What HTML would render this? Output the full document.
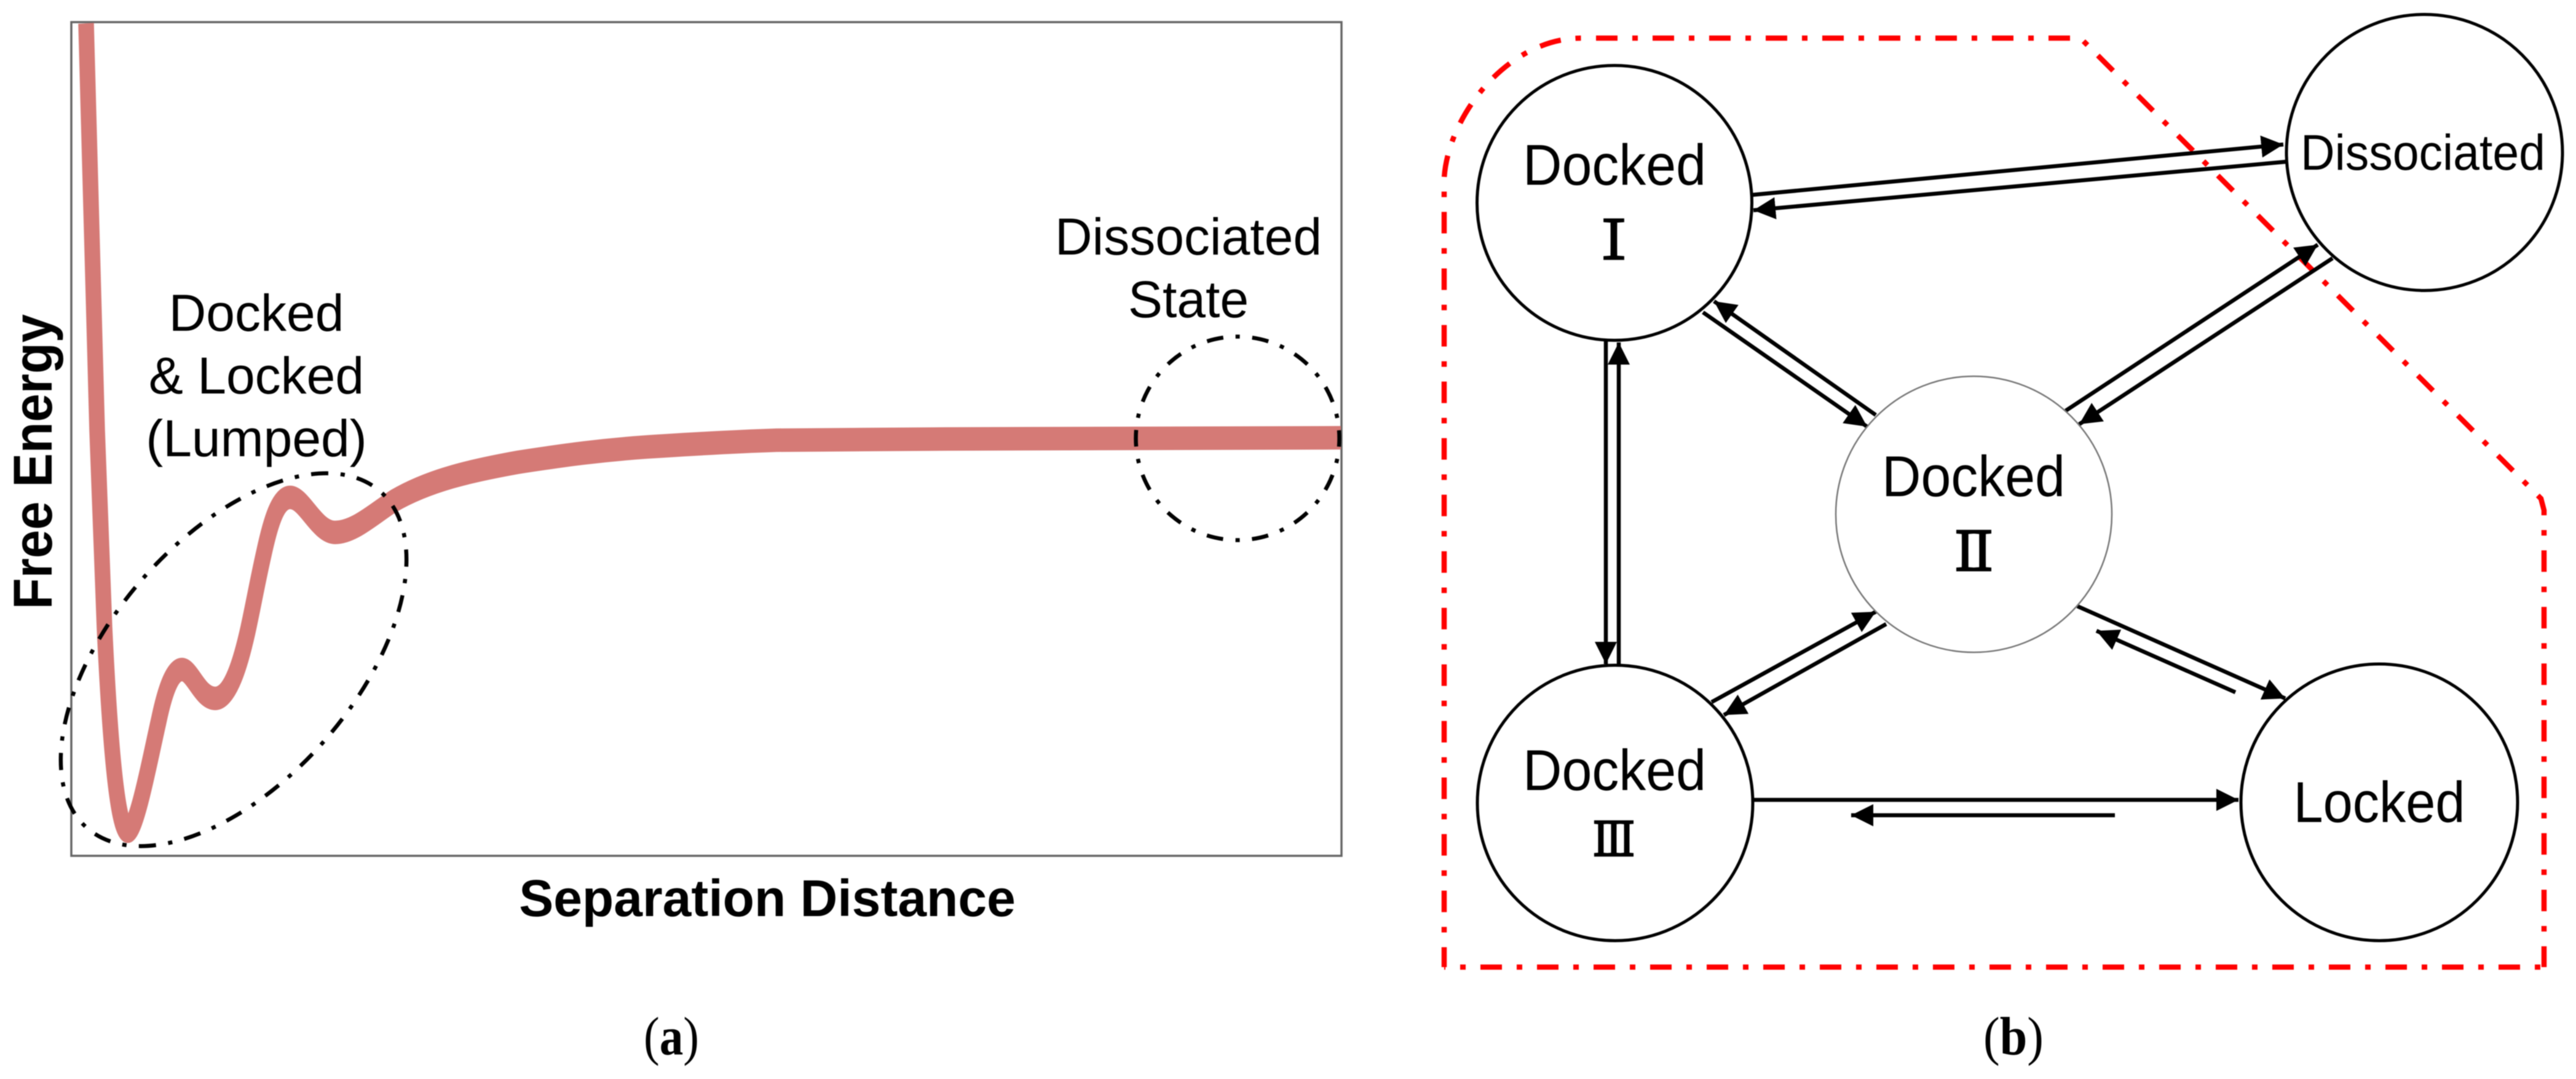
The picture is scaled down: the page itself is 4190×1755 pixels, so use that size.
<!DOCTYPE html>
<html>
<head>
<meta charset="utf-8">
<style>
html,body{margin:0;padding:0;background:#fff;}
svg{display:block;filter:blur(0.7px);}
.a{font-family:"Liberation Sans",Arial,sans-serif;fill:#000;}
.n{font-family:"Liberation Sans",Arial,sans-serif;font-size:94px;text-anchor:middle;fill:#000;}
.r{font-family:"Noto Serif CJK SC","Noto Serif CJK",serif;text-anchor:middle;fill:#000;stroke:#000;stroke-width:3.5;}
.l{stroke:#000;stroke-width:6.5;fill:none;marker-end:url(#h);}
.c{fill:#fff;stroke:#000;stroke-width:5;}
.d{fill:none;stroke:#f00;stroke-width:8.5;}
</style>
</head>
<body>
<svg xmlns="http://www.w3.org/2000/svg" width="4190" height="1755" viewBox="0 0 4190 1755">
<defs>
<marker id="h" markerUnits="userSpaceOnUse" markerWidth="40" markerHeight="40" refX="36" refY="20" orient="auto">
<path d="M0,2 L36,20 L0,38 Z" fill="#000"/>
</marker>
</defs>
<rect width="4190" height="1755" fill="#fff"/>

<!-- Panel a -->
<rect x="116" y="36" width="2066" height="1356" fill="#fff" stroke="#666" stroke-width="3.5"/>
<g transform="scale(1 1.5)">
<path d="M140,25.33 L158,466.67 L170,680.67 C178,793.33 190,901.33 208,901.33 C222,901.33 245,820 258,782 C268,750 280,726 296,726 C313,726 325,757.33 350,757.33 C375,757.33 392,716.67 403,684 C412,656.67 418,633.33 429,600.67 C440,566.67 452,539.33 472,539.33 C495,539.33 515,577.33 545,577.33 C575,577.33 605,558.67 640,543.33 C700,520 770,510 842,501.33 C920,493.33 980,488 1052,484.67 C1130,481.33 1200,478.67 1263,477.33 L1543,476 L2181,474.67" fill="none" stroke="#d57a76" stroke-width="25.5" stroke-linejoin="round"/>
</g>
<ellipse cx="380" cy="1073" rx="363" ry="198" transform="rotate(-49 380 1073)" fill="none" stroke="#000" stroke-width="6.5" stroke-dasharray="28 20 7 20" stroke-dashoffset="43.5"/>
<circle cx="2013" cy="713" r="165.5" fill="none" stroke="#000" stroke-width="6.5" stroke-dasharray="27 20 7 20.27" stroke-dashoffset="13.5"/>

<g class="a" font-size="84" text-anchor="middle">
<text x="417" y="538">Docked</text>
<text x="417" y="640">&amp; Locked</text>
<text x="417" y="742">(Lumped)</text>
<text x="1933" y="414">Dissociated</text>
<text x="1933" y="516">State</text>
<text x="1248" y="1490" font-weight="bold">Separation Distance</text>
<text transform="translate(84 751) rotate(-90)" font-weight="bold" font-size="89" textLength="480" lengthAdjust="spacingAndGlyphs">Free Energy</text>
</g>
<text x="1092" y="1715" font-family="'Liberation Serif',serif" font-size="88" text-anchor="middle" textLength="90" lengthAdjust="spacingAndGlyphs">(<tspan font-weight="bold">a</tspan>)</text>
<text x="3275" y="1715" font-family="'Liberation Serif',serif" font-size="88" text-anchor="middle" textLength="98" lengthAdjust="spacingAndGlyphs">(<tspan font-weight="bold">b</tspan>)</text>

<!-- Panel b: boundary -->
<path class="d" d="M2349,1573 L4138,1573" stroke-dasharray="35 24 9 24" stroke-dashoffset="33"/>
<path class="d" d="M2596,62 L3384,62 L4133,811 L4138,830 L4138,1573" stroke-dasharray="35 24 9 24"/>
<path class="d" d="M2571.5,62 C2450,63 2355,190 2349,290 L2349,1573" stroke-dasharray="9 24 35 24"/>

<!-- Connectors -->
<path class="l" d="M2850,317 L3714,235"/>
<path class="l" d="M3719,263 L2852,342"/>
<path class="l" d="M2770,508 L3037,694"/>
<path class="l" d="M3051,675 L2788,490"/>
<path class="l" d="M3360,668 L3770,398"/>
<path class="l" d="M3794,420 L3382,690"/>
<path class="l" d="M2612,555 L2612,1080"/>
<path class="l" d="M2633,1080 L2633,557"/>
<path class="l" d="M2784,1142 L3051,995"/>
<path class="l" d="M3068,1015 L2804,1163"/>
<path class="l" d="M3379,986 L3717,1136"/>
<path class="l" d="M3636,1126 L3410,1026"/>
<path class="l" d="M2852,1301 L3641,1301"/>
<path class="l" d="M3440,1326 L3011,1326"/>

<!-- Nodes -->
<circle class="c" cx="2626" cy="330" r="223.5"/>
<circle class="c" cx="3943.5" cy="248" r="224.5"/>
<circle cx="3210.5" cy="836.5" r="224.5" fill="#fff" stroke="#777" stroke-width="2.5"/>
<circle class="c" cx="2627" cy="1306" r="224"/>
<circle class="c" cx="3870" cy="1305" r="225"/>

<text class="n" x="2626" y="300.5" textLength="298" lengthAdjust="spacingAndGlyphs">Docked</text>
<text class="r" x="2625" y="421" font-size="86">Ⅰ</text>
<text class="n" x="3210" y="807" textLength="298" lengthAdjust="spacingAndGlyphs">Docked</text>
<text class="r" x="3210.5" y="927.5" font-size="86">Ⅱ</text>
<text class="n" x="2626" y="1285" textLength="298" lengthAdjust="spacingAndGlyphs">Docked</text>
<text class="r" transform="translate(2625 1391.5) scale(.915 1)" font-size="74">Ⅲ</text>
<text class="n" x="3941" y="276" style="font-size:82px" textLength="398" lengthAdjust="spacingAndGlyphs">Dissociated</text>
<text class="n" x="3870" y="1337" textLength="279" lengthAdjust="spacingAndGlyphs">Locked</text>
</svg>
</body>
</html>
